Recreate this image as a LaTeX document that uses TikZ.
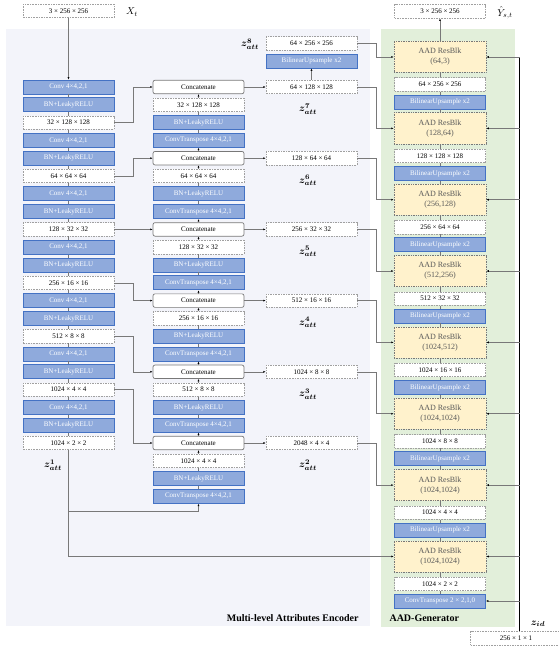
\documentclass[tikz,border=0pt]{standalone}
\usepackage{fontspec}
\setmainfont{Liberation Serif}
\usepackage{bm}
\usetikzlibrary{arrows.meta}

\definecolor{encbg}{RGB}{243,244,250}
\definecolor{genbg}{RGB}{226,239,218}
\definecolor{blkfill}{RGB}{143,170,220}
\definecolor{blkdraw}{RGB}{68,114,196}
\definecolor{aadfill}{RGB}{255,242,204}
\definecolor{linegray}{RGB}{120,120,120}
\definecolor{dashgray}{RGB}{160,160,160}

\tikzset{
	blk/.style={draw=blkdraw, fill=blkfill, text=white, line width=0.8pt,
		minimum width=91pt, minimum height=14pt, inner sep=0pt,
		font=\fontsize{7}{8}\selectfont},
	dimbox/.style={draw=dashgray, dash pattern=on 1.6pt off 1pt, fill=white,
		line width=0.6pt, minimum width=91pt, minimum height=13.5pt, inner sep=0pt,
		font=\fontsize{7}{8}\selectfont},
	catbox/.style={draw=linegray, rounded corners=2pt, fill=white, line width=0.7pt,
		minimum width=91pt, minimum height=13.5pt, inner sep=0pt,
		font=\fontsize{7}{8}\selectfont},
	aadbox/.style={draw=linegray, densely dotted, fill=aadfill, line width=0.7pt,
		minimum width=92pt, minimum height=31pt, inner sep=0pt, align=center,
		text=black!65, font=\fontsize{8}{10}\selectfont},
	conn/.style={draw=linegray, line width=0.6pt, -{Latex[length=2.4pt,width=2pt,black]}},
	gline/.style={draw=linegray, line width=0.6pt},
	zlab/.style={font=\fontsize{10}{12}\selectfont},
}

\begin{document}
\begin{tikzpicture}[x=1pt,y=-1pt]
	
	\useasboundingbox (0,0) rectangle (559,650);
	
	% panels
	\fill[encbg] (6,29) rectangle (370,626);
	\fill[genbg] (381,29) rectangle (515,627);
	\node[anchor=east, font=\fontsize{10}{12}\selectfont\bfseries] (enctitle) at (362,618) {Multi-level Attributes Encoder};
	\node[anchor=west, font=\fontsize{10}{12}\selectfont\bfseries] (gentitle) at (386,618) {AAD-Generator};
	
	% input
	\node[dimbox] (xin) at (68.5,11) {3 × 256 × 256};
	\node[zlab] (xlab) at (132,12) {$X_t$};
	
	% encoder, down path
	\foreach \dm [count=\g from 0] in {32 × 128 × 128, 64 × 64 × 64, 128 × 32 × 32, 256 × 16 × 16, 512 × 8 × 8, 1024 × 4 × 4, 1024 × 2 × 2}{
		\pgfmathsetmacro\ya{87+53.4*\g}
		\node[blk] (ec\g) at (68.5,\ya) {Conv 4×4,2,1};
		\node[blk] (eb\g) at (68.5,\ya+17.8) {BN+LeakyRELU};
		\node[dimbox] (ed\g) at (68.5,\ya+35.6) {\dm};
	}
	\node[zlab] (zl1) at (53,465) {$\bm{z}^{\bm{1}}_{\bm{att}}$};
	
	% encoder, up path
	\foreach \dm [count=\m from 0] in {32 × 128 × 128, 64 × 64 × 64, 128 × 32 × 32, 256 × 16 × 16, 512 × 8 × 8, 1024 × 4 × 4}{
		\pgfmathsetmacro\yc{87+71.2*\m}
		\node[catbox] (mc\m) at (198.5,\yc) {Concatenate};
		\node[dimbox] (md\m) at (198.5,\yc+17.8) {\dm};
		\node[blk] (mb\m) at (198.5,\yc+35.6) {BN+LeakyRELU};
		\node[blk] (mt\m) at (198.5,\yc+53.4) {ConvTranspose 4×4,2,1};
	}
	
	% attribute outputs
	\foreach \dm/\s [count=\m from 0] in {64 × 128 × 128/7, 128 × 64 × 64/6, 256 × 32 × 32/5, 512 × 16 × 16/4, 1024 × 8 × 8/3, 2048 × 4 × 4/2}{
		\node[dimbox] (za\m) at (311.5,87+71.2*\m) {\dm};
		\node[zlab] (zl\s) at (308,109+71.2*\m) {$\bm{z}^{\bm{\s}}_{\bm{att}}$};
	}
	\node[blk] (zup) at (311.5,61) {BilinearUpsample x2};
	\node[dimbox] (zat) at (311.5,43.5) {64 × 256 × 256};
	\node[zlab] (zl8) at (250,44) {$\bm{z}^{\bm{8}}_{\bm{att}}$};
	
	% generator
	\foreach \io/\dm [count=\k from 0] in {{64,3}/64 × 256 × 256, {128,64}/128 × 128 × 128, {256,128}/256 × 64 × 64, {512,256}/512 × 32 × 32, {1024,512}/1024 × 16 × 16, {1024,1024}/1024 × 8 × 8, {1024,1024}/1024 × 4 × 4, {1024,1024}/1024 × 2 × 2}{
		\pgfmathsetmacro\yg{57+71.35*\k}
		\node[aadbox] (g\k) at (440,\yg) {AAD ResBlk\\(\io)};
		\node[dimbox] (gd\k) at (440,\yg+27.5) {\dm};
	}
	\foreach \k in {0,...,6}
		\node[blk] (gu\k) at (440,57+71.35*\k+45) {BilinearUpsample x2};
	\node[blk] (gt) at (440,601) {ConvTranspose 2 × 2,1,0};
	
	\node[dimbox] (yout) at (440,11.5) {3 × 256 × 256};
	\node[zlab] (ylab) at (505,13) {$\hat{Y}_{s,t}$};
	
	\node[dimbox] (zid) at (516,638.5) {256 × 1 × 1};
	\node[zlab] (zidlab) at (538,624) {$\bm{z}_{\bm{id}}$};
	\coordinate (ztop) at (519.5,57);
	
	% links, encoder
	\draw[conn] (xin) -- (ec0);
	\foreach \g [evaluate=\g as \h using int(\g+1)] in {0,...,6}{
		\draw[gline] (ec\g) -- (eb\g);
		\draw[gline] (eb\g) -- (ed\g);
		\ifnum\g<6 \draw[gline] (ed\g) -- (ec\h); \fi
	}
	\foreach \m in {0,...,5}{
		\draw[gline] (mt\m) -- (mb\m);
		\draw[gline] (mb\m) -- (md\m);
		\draw[conn] (md\m) -- (mc\m);
		\draw[conn] (ed\m.east) -- ++(19,0) |- (mc\m.west);
		\draw[conn] (mc\m) -- (za\m);
	}
	\foreach \m [evaluate=\m as \n using int(\m+1)] in {0,...,4}
		\draw[conn] (mc\n) -- (mt\m);
	\draw[conn] (ed6.south) -- ++(0,61) -| (mt5.south);
	\draw[conn] (za0) -- (zup);
	
	% links, encoder to generator
	\draw[conn] (zat.east) -- ++(19,0) |- (g0.west);
	\foreach \m [evaluate=\m as \n using int(\m+1)] in {0,...,5}
		\draw[conn] (za\m.east) -- ++(19,0) |- (g\n.west);
	\draw[conn, line width=1pt] (ed6.south) |- (g7.west);
	
	% links, generator
	\draw[conn] (g0) -- (yout);
	\foreach \k [evaluate=\k as \n using int(\k+1)] in {0,...,6}{
		\draw[gline] (gd\k) -- (g\k);
		\draw[gline] (gu\k) -- (gd\k);
		\draw[gline] (g\n) -- (gu\k);
	}
	\draw[gline] (gt) -- (gd7);
	\draw[gline] (gd7) -- (g7);
	
	% identity
	\draw[line width=1.2pt] (zid.north -| ztop) -- (ztop);
	\foreach \k in {0,...,7}
		\draw[conn] (g\k.east -| ztop) -- (g\k.east);
	\draw[conn] (gt.east -| ztop) -- (gt.east);
	
\end{tikzpicture}
\end{document}
